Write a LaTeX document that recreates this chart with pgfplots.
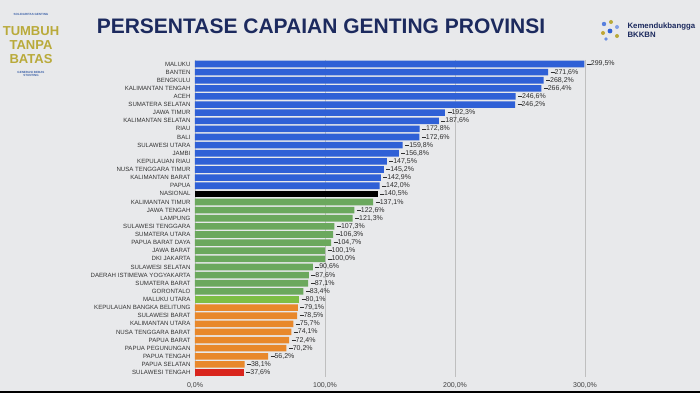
\documentclass[border=0pt]{standalone}
\usepackage{pgfplots}
\pgfplotsset{compat=1.18}
\usepackage{fontspec}
\setmainfont{Liberation Sans}
\definecolor{bg}{HTML}{E8E9EB}
\definecolor{navy}{HTML}{1C2A5E}
\definecolor{cblue}{HTML}{2F60D6}
\definecolor{cgreen}{HTML}{6BA85D}
\definecolor{clgreen}{HTML}{7DBE45}
\definecolor{corange}{HTML}{E8882B}
\definecolor{cred}{HTML}{D9251D}
\definecolor{gold}{HTML}{B9AA3A}
\definecolor{lblue}{HTML}{3F63A8}
\pgfdeclarelayer{bglayer}
\pgfsetlayers{bglayer,main}
\begin{document}
\begin{tikzpicture}[x=1pt,y=1pt]
\begin{axis}[
  scale only axis, width=429pt, height=316.7pt,
  xmin=0, xmax=330, ymin=-0.5, ymax=38.5, y dir=reverse,
  xtick={0,100,200,300},
  xticklabels={{0,0\%},{100,0\%},{200,0\%},{300,0\%}},
  xticklabel style={font=\fontsize{7}{8}\selectfont, text=black!75, yshift=-2pt},
  ytick={0,...,38},
  yticklabels={MALUKU,BANTEN,BENGKULU,KALIMANTAN TENGAH,ACEH,SUMATERA SELATAN,JAWA TIMUR,KALIMANTAN SELATAN,RIAU,BALI,SULAWESI UTARA,JAMBI,KEPULAUAN RIAU,NUSA TENGGARA TIMUR,KALIMANTAN BARAT,PAPUA,NASIONAL,KALIMANTAN TIMUR,JAWA TENGAH,LAMPUNG,SULAWESI TENGGARA,SUMATERA UTARA,PAPUA BARAT DAYA,JAWA BARAT,DKI JAKARTA,SULAWESI SELATAN,DAERAH ISTIMEWA YOGYAKARTA,SUMATERA BARAT,GORONTALO,MALUKU UTARA,KEPULAUAN BANGKA BELITUNG,SULAWESI BARAT,KALIMANTAN UTARA,NUSA TENGGARA BARAT,PAPUA BARAT,PAPUA PEGUNUNGAN,PAPUA TENGAH,PAPUA SELATAN,SULAWESI TENGAH},
  yticklabel style={font=\fontsize{6.1}{6.5}\selectfont, text=black!80, xshift=-1pt},
  axis line style={draw=none},
  major tick length=0pt,
  xmajorgrids, grid style={draw=black!25, line width=0.6pt},
  clip=false,
  /pgf/number format/assume math mode=true,
  xbar, bar width=6.6pt, bar shift=0pt,
  every node near coord/.append style={font=\fontsize{7}{8}\selectfont, text=black!82, anchor=west, xshift=-1pt},
  nodes near coords={\rule[0.5ex]{4pt}{0.4pt}\pgfmathprintnumber[fixed,precision=1,fixed zerofill,use comma,assume math mode=true]{\pgfplotspointmeta}\%},
  point meta=explicit,
]
\addplot[fill=cblue, draw=none] table[meta=x] {
x y
299.5 0
271.6 1
268.2 2
266.4 3
246.6 4
246.2 5
192.3 6
187.6 7
172.8 8
172.6 9
159.8 10
156.8 11
147.5 12
145.2 13
142.9 14
142.0 15
};
\addplot[fill=black, draw=none] table[meta=x] {
x y
140.5 16
};
\addplot[fill=cgreen, draw=none] table[meta=x] {
x y
137.1 17
122.6 18
121.3 19
107.3 20
106.3 21
104.7 22
100.1 23
100.0 24
90.6 25
87.6 26
87.1 27
83.4 28
};
\addplot[fill=clgreen, draw=none] table[meta=x] {
x y
80.1 29
};
\addplot[fill=corange, draw=none] table[meta=x] {
x y
79.1 30
78.5 31
75.7 32
74.1 33
72.4 34
70.2 35
56.2 36
38.1 37
};
\addplot[fill=cred, draw=none] table[meta=x] {
x y
37.6 38
};
\coordinate (O) at (axis cs:0,38.5);
\end{axis}
\begin{scope}[shift={(O)},xshift=-195pt,yshift=-16.4pt]
\begin{pgfonlayer}{bglayer}
\fill[bg] (0,0) rectangle (700,393);
\end{pgfonlayer}
\fill[black] (0,0) rectangle (700,2);
% title
\node[anchor=center,text=navy,font=\bfseries\fontsize{21}{22}\selectfont] at (321,367) {PERSENTASE CAPAIAN GENTING PROVINSI};
% left logo
\node[text=lblue,font=\bfseries\fontsize{3}{3.5}\selectfont] at (31,379) {SOLIDARITAS GENTING};
\node[text=gold,font=\bfseries\fontsize{13}{13}\selectfont] at (31,362) {TUMBUH};
\node[text=gold,font=\bfseries\fontsize{13}{13}\selectfont] at (31,348) {TANPA};
\node[text=gold,font=\bfseries\fontsize{13}{13}\selectfont] at (31,334) {BATAS};
\node[text=lblue,font=\bfseries\fontsize{3}{3.5}\selectfont,align=center] at (31,319) {GENERASI BEBAS\\STUNTING};
% right logo
\fill[cblue!80] (604,369) circle (2.2);
\fill[gold] (611,371) circle (2);
\fill[cblue!60] (617,366) circle (2);
\fill[gold!90!orange] (603,360) circle (2);
\fill[cblue] (610,362) circle (2.4);
\fill[gold] (617,357) circle (2);
\fill[cblue!70] (606,354) circle (1.8);
\node[anchor=west,text=navy,font=\bfseries\fontsize{7.8}{8.8}\selectfont,align=left] at (624,363) {Kemendukbangga\\BKKBN};
\pgfresetboundingbox
\useasboundingbox (0,0) rectangle (700,393);
\end{scope}
\end{tikzpicture}
\end{document}
